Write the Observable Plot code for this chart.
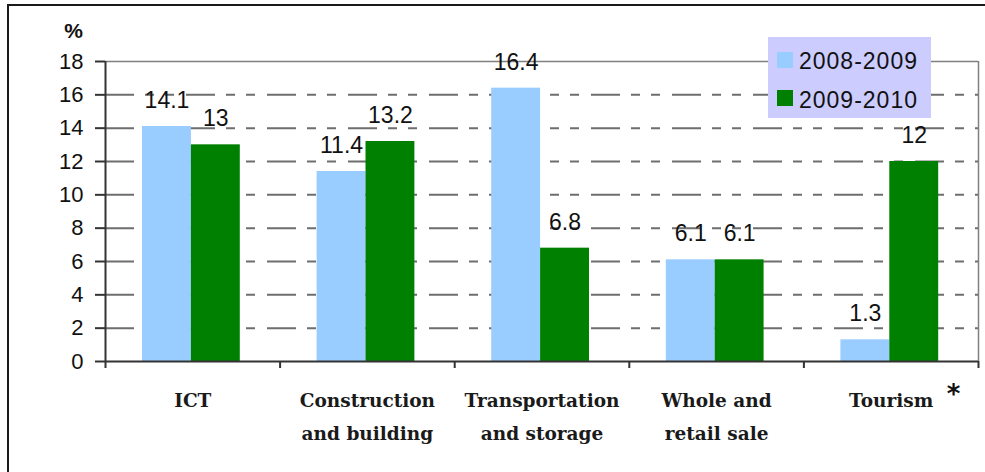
<!DOCTYPE html>
<html><head><meta charset="utf-8">
<script src="https://cdn.jsdelivr.net/npm/d3@7"></script>
<script src="https://cdn.jsdelivr.net/npm/@observablehq/plot@0.6"></script>
<style>
body{margin:0;background:#fff;}
#wrap{position:relative;width:985px;height:472px;overflow:hidden;background:#fff;}
#border{position:absolute;left:7px;top:4px;width:2000px;height:2000px;border-top:2.5px solid #1a1a1a;border-left:2.5px solid #1a1a1a;pointer-events:none;}
#legend{position:absolute;left:768px;top:37px;width:163px;height:81px;background:#ccccff;font-family:"Liberation Sans",Arial,sans-serif;font-size:23px;line-height:23px;letter-spacing:1px;color:#111;}
.sw{position:absolute;left:9px;width:16px;height:16px;}
.lt{position:absolute;left:31px;white-space:nowrap;}
</style>
</head><body>
<div id="wrap"><div id="chart"></div><div id="legend"></div><div id="border"></div></div>
<script>
const categories = ["ICT", "Construction\nand building", "Transportation\nand storage", "Whole and\nretail sale", "Tourism"];
const seriesNames = ["2008-2009", "2009-2010"];
const values0809 = [14.1, 11.4, 16.4, 6.1, 1.3];
const values0910 = [13, 13.2, 6.8, 6.1, 12];
const yTicks = [0, 2, 4, 6, 8, 10, 12, 14, 16, 18];
const gridTicks = [2, 4, 6, 8, 10, 12, 14, 16];
const seriesColors = ["#99ccff", "#008000"];

const rows = categories.flatMap((c, i) => [
  {cat: c, i, s: 0, series: seriesNames[0], value: values0809[i]},
  {cat: c, i, s: 1, series: seriesNames[1], value: values0910[i]}
]);

const groupStart = 0.212, barW = 0.28;
const bx1 = d => d.i + groupStart + d.s * barW;
const bx2 = d => bx1(d) + barW;
const boundaries = d3.range(categories.length + 1);
const centers = categories.map((c, i) => i + 0.5);
const sans = "'Liberation Sans', Arial, sans-serif";

const chart = Plot.plot({
  width: 985,
  height: 472,
  marginLeft: 105,
  marginRight: 7,
  marginTop: 61,
  marginBottom: 111,
  style: {fontFamily: sans, fontSize: "22px", color: "#111", background: "transparent"},
  x: {domain: [0, categories.length]},
  y: {domain: [0, 18]},
  color: {domain: seriesNames, range: seriesColors},
  marks: [
    Plot.ruleY(gridTicks, {stroke: "#6e6e6e", strokeWidth: 2, strokeDasharray: "29,11,9,11,9,12"}),
    Plot.ruleY([18], {stroke: "#808080", strokeWidth: 1.5}),
    Plot.ruleX([categories.length], {stroke: "#808080", strokeWidth: 1.5}),
    Plot.rect(rows, {x1: bx1, x2: bx2, y1: 0, y2: "value", fill: "series"}),
    Plot.text(rows, {x: d => (bx1(d) + bx2(d)) / 2, y: "value", text: d => String(d.value), dy: -26, fontSize: 23, fontFamily: sans, fill: "#111"}),
    Plot.ruleY([0], {stroke: "#333", strokeWidth: 2}),
    Plot.ruleX([0], {stroke: "#333", strokeWidth: 2}),
    Plot.axisY({ticks: yTicks, tickSize: 10, tickPadding: 12, fontSize: 22, fontFamily: sans, label: null, stroke: "#333", strokeWidth: 2, fill: "#111"}),
    Plot.axisX({ticks: boundaries, tickSize: 7, tickFormat: () => "", label: null, stroke: "#333", strokeWidth: 2}),
    Plot.axisX({ticks: centers, tickSize: 0, tickPadding: 22, tickFormat: t => categories[Math.floor(t)],
      fontFamily: "'DejaVu Serif', serif", fontWeight: "bold", fontSize: 18.5, lineHeight: 1.78, label: null, fill: "#1a1a1a"}),
    Plot.text(["%"], {frameAnchor: "top-left", textAnchor: "middle", lineAnchor: "middle", dx: -32, dy: -30, fontSize: 21, fontWeight: "bold", fontFamily: sans, fill: "#111"}),
    Plot.text(["*"], {frameAnchor: "bottom-right", textAnchor: "middle", lineAnchor: "middle", dx: -25, dy: 33, fontSize: 26, fontWeight: "bold", fontFamily: "'DejaVu Sans', sans-serif", fill: "#111"})
  ]
});
document.getElementById("chart").appendChild(chart);

const legend = document.getElementById("legend");
const legendRows = [{top: 15, txt: 12.5}, {top: 53, txt: 51.5}];
seriesNames.forEach((name, k) => {
  const sw = document.createElement("div");
  sw.className = "sw";
  sw.style.top = legendRows[k].top + "px";
  sw.style.background = seriesColors[k];
  const t = document.createElement("div");
  t.className = "lt";
  t.style.top = legendRows[k].txt + "px";
  t.textContent = name;
  legend.appendChild(sw);
  legend.appendChild(t);
});
</script>
</body></html>
